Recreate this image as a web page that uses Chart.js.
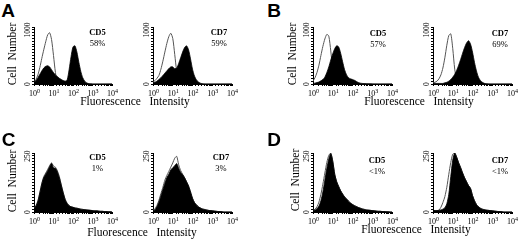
<!DOCTYPE html>
<html><head><meta charset="utf-8">
<script src="https://cdn.jsdelivr.net/npm/chart.js@4.4.0/dist/chart.umd.min.js"></script>
<style>
html,body{margin:0;padding:0;background:#fff;}
#wrap{position:relative;width:520px;height:247px;overflow:hidden;background:#fff;}
canvas{position:absolute;}
.t{position:absolute;white-space:pre;transform:translate(-50%,-50%);font-family:"Liberation Serif","Times New Roman",serif;color:#000;line-height:1;}
.L{font-family:"Liberation Sans",Arial,sans-serif;font-weight:bold;font-size:19px;}
.ylab{transform:translate(-50%,-50%) rotate(-90deg);font-size:11.5px;}
.xlab{font-size:11.5px;}
.cd{font-weight:bold;font-size:8.5px;}
.pc{font-size:8.5px;}
</style></head><body><div id="wrap"></div>
<script>
// log-spaced fluorescence channels (10^0 .. 10^4)
const channels = [1,1.259,1.585,1.995,2.512,3.162,3.981,5.012,6.31,7.943,
  10,12.59,15.85,19.95,25.12,31.62,39.81,50.12,63.1,79.43,
  100,125.9,158.5,199.5,251.2,316.2,398.1,501.2,631,794.3,
  1000,1259,1585,1995,2512,3162,3981,5012,6310,7943,10000];
const xTickValues = [1,10,100,1000,10000];
const xTickExponents = ['0','1','2','3','4'];
const panelLetters = ['A','B','C','D'];
const markers = ['CD5','CD7'];
const percentA = ['58%','59%'];
const percentB = ['57%','69%'];
const percentC = ['1%','3%'];
const percentD = ['<1%','<1%'];
const yMaxAB = 1000;
const yMaxCD = 250;
const yAxisTitle = 'Cell  Number';
const xAxisTitle = 'Fluorescence   Intensity';

const aCD5Control = [40,80,160,290,450,600,740,860,900,780, 500,200,40,15,5,0,0,0,0,0, 0,0,0,0,0,0,0,0,0,0, 0,0,0,0,0,0,0,0,0,0, 0];
const aCD5Stained = [30,60,110,170,230,280,310,320,300,250, 200,160,130,100,80,60,50,70,250,480, 650,670,560,380,220,110,50,20,8,3, 0,0,0,0,0,0,0,0,0,0, 0];
const aCD7Control = [30,60,100,150,260,400,560,710,830,890, 800,520,220,70,20,5,0,0,0,0, 0,0,0,0,0,0,0,0,0,0, 0,0,0,0,0,0,0,0,0,0, 0];
const aCD7Stained = [15,30,50,80,110,150,190,230,270,300, 300,270,280,360,460,560,640,670,600,440, 260,140,70,35,15,6,2,0,0,0, 0,0,0,0,0,0,0,0,0,0, 0];
const bCD5Control = [50,110,200,330,500,660,790,870,840,580, 260,120,70,45,30,20,12,8,5,3, 0,0,0,0,0,0,0,0,0,0, 0,0,0,0,0,0,0,0,0,0, 0];
const bCD5Stained = [10,15,25,35,55,80,120,200,300,420, 530,620,670,650,540,390,250,160,110,90, 80,65,45,25,15,10,7,5,4,3, 2,1,1,0,0,0,0,0,0,0, 0];
const bCD7Control = [20,30,50,90,160,280,460,680,850,880, 620,260,70,20,5,0,0,0,0,0, 0,0,0,0,0,0,0,0,0,0, 0,0,0,0,0,0,0,0,0,0, 0];
const bCD7Stained = [10,10,10,10,10,10,20,30,50,80, 120,170,240,330,430,540,640,720,760,700, 560,380,230,120,60,30,12,5,2,0, 0,0,0,0,0,0,0,0,0,0, 0];
const cCD5Control = [14,27,48,84,122,150,165,180,196,208, 195,190,174,150,115,82,54,37,27,22, 20,17,16,14,12,11,10,9,8,7, 6,5,5,4,3,3,2,2,1,1, 0];
const cCD5Stained = [12,25,45,80,118,145,160,175,192,206, 188,185,170,145,112,80,52,36,27,22, 20,17,16,14,12,11,10,9,8,7, 6,5,5,4,3,3,2,2,1,1, 0];
const cCD7Control = [6,14,28,50,78,105,135,155,172,190, 208,228,236,200,176,160,145,128,110,85, 58,40,30,22,17,13,11,9,7,6, 5,4,3,2,2,1,0,0,0,0, 0];
const cCD7Stained = [5,10,22,42,68,95,122,145,160,178, 188,196,205,185,168,158,145,128,110,85, 58,40,30,22,17,13,11,9,7,6, 5,4,3,2,2,1,0,0,0,0, 0];
const dCD5Control = [6,12,22,42,75,118,165,210,240,250, 215,160,128,108,90,76,64,55,46,38, 32,27,23,19,16,13,11,9,8,7, 6,5,4,3,3,2,2,1,1,0, 0];
const dCD5Stained = [5,8,14,25,48,85,135,185,225,248, 215,160,128,108,90,76,64,55,46,38, 32,27,23,19,16,13,11,9,8,7, 6,5,4,3,3,2,2,1,1,0, 0];
const dCD7Control = [5,4,5,8,20,40,65,105,160,210, 245,250,232,208,188,165,145,128,112,100, 70,48,32,22,16,12,10,8,7,6, 5,4,3,2,2,1,0,0,0,0, 0];
const dCD7Stained = [8,6,6,7,9,12,18,35,75,150, 220,250,232,208,188,165,145,128,112,100, 70,48,32,22,16,12,10,8,7,6, 5,4,3,2,2,1,0,0,0,0, 0];

const wrap = document.getElementById('wrap');
function addText(txt, cls, x, y){
  const d = document.createElement('div');
  d.className = 't ' + cls; d.textContent = txt;
  d.style.left = x + 'px'; d.style.top = y + 'px';
  wrap.appendChild(d);
}

const labelPlugin = {
  id: 'axisLabels',
  afterDraw(chart){
    const ctx = chart.ctx, xs = chart.scales.x, ys = chart.scales.y;
    ctx.save(); ctx.fillStyle = '#000'; ctx.textBaseline = 'middle';
    xTickValues.forEach((v, i) => {
      const px = xs.getPixelForValue(v), py = xs.top + 10;
      ctx.font = '8px "Liberation Serif"';
      const w1 = ctx.measureText('10').width;
      ctx.font = '6px "Liberation Serif"';
      const w2 = ctx.measureText(xTickExponents[i]).width;
      const x0 = px - (w1 + w2) / 2 + 0.5;
      ctx.textAlign = 'left';
      ctx.font = '8px "Liberation Serif"';
      ctx.fillText('10', x0, py);
      ctx.font = '6px "Liberation Serif"';
      ctx.fillText(xTickExponents[i], x0 + w1, py - 3);
    });
    const ymax = ys.max;
    [[0, 0], [ymax, 3]].forEach(([v, off]) => {
      const py = ys.getPixelForValue(v) + off;
      ctx.save();
      ctx.translate(ys.right - 6, py);
      ctx.rotate(-Math.PI / 2);
      ctx.textAlign = 'center';
      ctx.font = '7.5px "Liberation Serif"';
      ctx.fillText(String(v), 0, 0);
      ctx.restore();
    });
    ctx.restore();
  }
};

function makePanel(p){
  const padL = 24, padT = 6, padR = 10, padB = 16;
  const w = p.right - p.left + padL + padR, h = p.bottom - p.top + padT + padB;
  const cv = document.createElement('canvas');
  cv.width = w; cv.height = h;
  cv.style.left = (p.left - padL) + 'px'; cv.style.top = (p.top - padT) + 'px';
  cv.style.width = w + 'px'; cv.style.height = h + 'px';
  wrap.appendChild(cv);
  const pts = arr => channels.map((c, i) => ({x: c, y: arr[i]}));
  const gridOpt = {display: true, drawOnChartArea: false, drawTicks: true, tickLength: 2, color: '#000', tickColor: '#000', lineWidth: 1};
  const borderOpt = {display: true, color: '#000', width: 1};
  new Chart(cv, {
    type: 'line',
    data: {datasets: [
      {data: pts(p.stained), fill: 'origin', backgroundColor: '#000', borderColor: '#000', borderWidth: 0.8, pointRadius: 0, tension: 0.25, order: 0},
      {data: pts(p.control), fill: false, borderColor: '#555', borderWidth: 1, pointRadius: 0, tension: 0.25, order: 1}
    ]},
    options: {
      responsive: false, animation: false, devicePixelRatio: 1,
      layout: {padding: {top: padT, right: padR, left: 0, bottom: 0}},
      plugins: {legend: {display: false}, tooltip: {enabled: false}},
      scales: {
        x: {type: 'logarithmic', min: 1, max: 10000, ticks: {display: false},
            grid: gridOpt, border: borderOpt,
            afterFit: s => { s.height = padB; s.paddingLeft = 0; s.paddingRight = 0; }},
        y: {type: 'linear', min: 0, max: p.ymax, ticks: {display: false, stepSize: p.ymax / 20},
            grid: gridOpt, border: borderOpt,
            afterFit: s => { s.width = padL; s.paddingTop = 0; s.paddingBottom = 0; }}
      }
    },
    plugins: [labelPlugin]
  });
}

const topY = 27, botY = 84, top2 = 153, bot2 = 212;
makePanel({left: 34, right: 112, top: topY, bottom: botY, ymax: yMaxAB, control: aCD5Control, stained: aCD5Stained});
makePanel({left: 153, right: 232, top: topY, bottom: botY, ymax: yMaxAB, control: aCD7Control, stained: aCD7Stained});
makePanel({left: 313, right: 392, top: topY, bottom: botY, ymax: yMaxAB, control: bCD5Control, stained: bCD5Stained});
makePanel({left: 433, right: 512, top: topY, bottom: botY, ymax: yMaxAB, control: bCD7Control, stained: bCD7Stained});
makePanel({left: 34, right: 112, top: top2, bottom: bot2, ymax: yMaxCD, control: cCD5Control, stained: cCD5Stained});
makePanel({left: 153, right: 232, top: top2, bottom: bot2, ymax: yMaxCD, control: cCD7Control, stained: cCD7Stained});
makePanel({left: 313, right: 392, top: top2, bottom: bot2, ymax: yMaxCD, control: dCD5Control, stained: dCD5Stained});
makePanel({left: 433, right: 512, top: top2, bottom: bot2, ymax: yMaxCD, control: dCD7Control, stained: dCD7Stained});

// panel letters
addText(panelLetters[0], 'L', 8, 10);
addText(panelLetters[1], 'L', 274, 10);
addText(panelLetters[2], 'L', 8.5, 139);
addText(panelLetters[3], 'L', 274, 139);
// axis titles
addText(yAxisTitle, 'ylab', 12.5, 54);
addText(yAxisTitle, 'ylab', 292.5, 54);
addText(yAxisTitle, 'ylab', 12.5, 181);
addText(yAxisTitle, 'ylab', 296, 180);
addText(xAxisTitle, 'xlab', 135, 102);
addText(xAxisTitle, 'xlab', 419, 102);
addText(xAxisTitle, 'xlab', 142, 233);
addText(xAxisTitle, 'xlab', 416, 230);
// marker labels
const lab = [[percentA, 97.5, 219, 32], [percentB, 378, 500, 33], [percentC, 97.5, 221, 157], [percentD, 377, 500, 160]];
lab.forEach(([pc, x1, x2, y]) => {
  addText(markers[0], 'cd', x1, y); addText(pc[0], 'pc', x1, y + 11);
  addText(markers[1], 'cd', x2, y); addText(pc[1], 'pc', x2, y + 11);
});
</script></body></html>
